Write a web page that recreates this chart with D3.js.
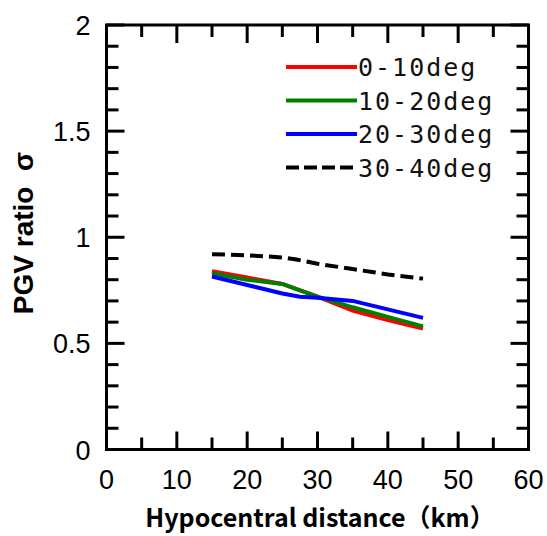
<!DOCTYPE html>
<html>
<head>
<meta charset="utf-8">
<script src="https://cdn.jsdelivr.net/npm/d3@7"></script>
<style>
  body { margin: 0; background: #fff; }
  svg { display: block; }
</style>
</head>
<body>
<div id="chart"></div>
<script>
// values
const seriesNames = ['0-10deg', '10-20deg', '20-30deg', '30-40deg'];
const seriesColors = ['#ff0000', '#008000', '#0000ff', '#000000'];
const red0to10 = [[15, 0.84], [20, 0.81], [25, 0.78], [30, 0.72], [35, 0.655], [40, 0.61], [45, 0.57]];
const green10to20 = [[15, 0.83], [20, 0.80], [25, 0.78], [27.5, 0.75], [30, 0.72], [35, 0.67], [40, 0.625], [45, 0.58]];
const blue20to30 = [[15, 0.815], [20, 0.775], [25, 0.735], [27.5, 0.72], [30, 0.715], [35, 0.70], [40, 0.66], [45, 0.62]];
const black30to40 = [[15, 0.92], [20, 0.915], [25, 0.905], [27, 0.895], [30, 0.875], [35, 0.85], [40, 0.825], [45, 0.805]];
const xTicks = [0, 10, 20, 30, 40, 50, 60];
const yTicks = [0, 0.5, 1, 1.5, 2];
const yTickLabels = ['0', '0.5', '1', '1.5', '2'];

const width = 547, height = 536;
const margin = {top: 25, right: 18.5, bottom: 86.5, left: 106.5};
const plotW = width - margin.left - margin.right;
const plotH = height - margin.top - margin.bottom;

const x = d3.scaleLinear().domain([0, 60]).range([0, plotW]);
const y = d3.scaleLinear().domain([0, 2]).range([plotH, 0]);

const svg = d3.select('#chart').append('svg')
  .attr('width', width)
  .attr('height', height);
const g = svg.append('g')
  .attr('transform', `translate(${margin.left},${margin.top})`);

const tickFont = '"Liberation Sans", Arial, sans-serif';

// minor + major ticks, inward on all four sides
const xMinor = d3.range(0, 61, 5);
const yMinor = d3.range(0, 2.001, 0.1).map(v => +v.toFixed(1));
const isMajorY = v => Math.abs(v * 2 - Math.round(v * 2)) < 1e-6;

g.selectAll('.xtick-b').data(xMinor).join('line')
  .attr('x1', d => x(d)).attr('x2', d => x(d))
  .attr('y1', plotH).attr('y2', d => plotH - (d % 10 === 0 ? 18 : 12))
  .attr('stroke', '#000').attr('stroke-width', 3);
g.selectAll('.xtick-t').data(xMinor).join('line')
  .attr('x1', d => x(d)).attr('x2', d => x(d))
  .attr('y1', 0).attr('y2', d => (d % 10 === 0 ? 18 : 12))
  .attr('stroke', '#000').attr('stroke-width', 3);
g.selectAll('.ytick-l').data(yMinor).join('line')
  .attr('y1', d => y(d)).attr('y2', d => y(d))
  .attr('x1', 0).attr('x2', d => (isMajorY(d) ? 18 : 12))
  .attr('stroke', '#000').attr('stroke-width', 3);
g.selectAll('.ytick-r').data(yMinor).join('line')
  .attr('y1', d => y(d)).attr('y2', d => y(d))
  .attr('x1', plotW).attr('x2', d => plotW - (isMajorY(d) ? 18 : 12))
  .attr('stroke', '#000').attr('stroke-width', 3);

// frame
g.append('rect')
  .attr('width', plotW).attr('height', plotH)
  .attr('fill', 'none').attr('stroke', '#000').attr('stroke-width', 3);

// tick labels
g.selectAll('.xlab').data(xTicks).join('text')
  .attr('x', d => x(d)).attr('y', plotH + 39)
  .attr('text-anchor', 'middle')
  .attr('font-family', tickFont).attr('font-size', 27)
  .text(d => d);
g.selectAll('.ylab').data(yTicks).join('text')
  .attr('x', -16).attr('y', d => y(d) + 10)
  .attr('text-anchor', 'end')
  .attr('font-family', tickFont).attr('font-size', 27)
  .text((d, i) => yTickLabels[i]);

// series
const line = d3.line().x(d => x(d[0])).y(d => y(d[1]));
const allSeries = [red0to10, green10to20, blue20to30, black30to40];
allSeries.forEach((s, i) => {
  g.append('path')
    .datum(s)
    .attr('fill', 'none')
    .attr('stroke', seriesColors[i])
    .attr('stroke-width', 4)
    .attr('stroke-dasharray', i === 3 ? '13,6' : null)
    .attr('d', line);
});

// legend
const legend = svg.append('g');
seriesNames.forEach((name, i) => {
  const ly = 67 + i * 33.5;
  legend.append('line')
    .attr('x1', 286).attr('x2', 357)
    .attr('y1', ly).attr('y2', ly)
    .attr('stroke', seriesColors[i])
    .attr('stroke-width', 4)
    .attr('stroke-dasharray', i === 3 ? '13,5' : null);
  legend.append('text')
    .attr('x', 358).attr('y', ly + 9)
    .attr('font-family', '"DejaVu Sans Mono", monospace')
    .attr('font-size', 25)
    .attr('letter-spacing', 2)
    .attr('fill', '#111')
    .text(name);
});

// axis titles
svg.append('text')
  .attr('x', 320).attr('y', 527)
  .attr('text-anchor', 'middle')
  .attr('font-family', '"Noto Sans CJK JP", "Noto Sans", sans-serif')
  .attr('font-weight', 'bold').attr('font-size', 25)
  .text('Hypocentral distance（km）');
svg.append('text')
  .attr('transform', 'translate(33,233) rotate(-90)')
  .attr('text-anchor', 'middle')
  .attr('font-family', '"Liberation Sans", Arial, sans-serif')
  .attr('font-weight', 'bold').attr('font-size', 28)
  .attr('xml:space', 'preserve')
  .style('white-space', 'pre')
  .text('PGV ratio  σ');
</script>
</body>
</html>
